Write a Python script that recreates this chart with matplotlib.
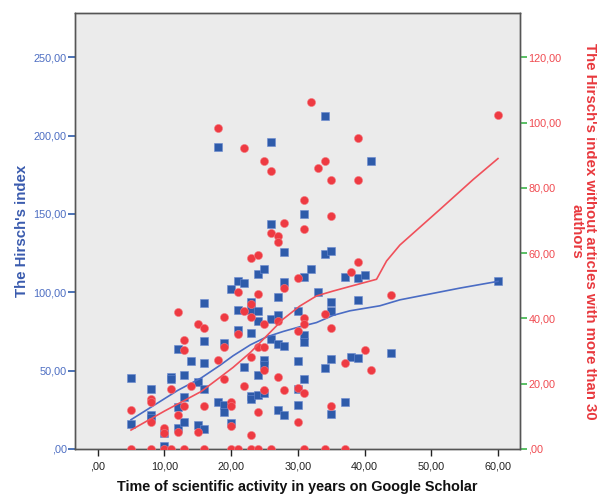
import numpy as np
import matplotlib
matplotlib.use('Agg')
import matplotlib.pyplot as plt
from matplotlib.ticker import FuncFormatter

plt.rcParams['font.family'] = ['Liberation Sans', 'DejaVu Sans']

# ── Data: Hirsch index (blue squares) ───────────────────────────────────────
h_years = [5, 5, 8, 8, 8, 10, 10, 11, 11, 12, 12, 12, 13, 13, 13, 14, 15, 15,
           16, 16, 16, 16, 16, 18, 18, 19, 19, 19, 20, 20, 21, 21, 21, 22, 22,
           23, 23, 23, 23, 23, 24, 24, 24, 24, 24, 25, 25, 25, 25,
           26, 26, 26, 26, 27, 27, 27, 27, 28, 28, 28, 28, 30, 30, 30, 30,
           31, 31, 31, 31, 31, 32, 33, 34, 34, 34, 35, 35, 35, 35, 35,
           37, 37, 38, 39, 39, 39, 40, 41, 44, 60]
h_index = [45, 16, 38, 22, 20, 10.5, 2, 46, 44.5, 64, 27, 13.5, 47, 33, 17, 56, 43, 15.5,
           93, 69, 55, 38, 13, 193, 30, 67.6, 28.3, 23.6, 102, 16.6, 107, 89, 76, 106, 52.5,
           94, 89, 74, 33.5, 32, 112, 88, 81.5, 47, 34.6, 115, 57, 53.5, 35.7,
           196, 143.5, 83, 70, 97, 85.5, 67, 25, 126, 106.5, 66, 21.4, 88, 56, 38, 28,
           150, 110, 73, 68.6, 44.5, 115, 100, 212.5, 124.5, 51.7, 126.5, 94, 88, 57.4, 22.3,
           110, 30, 59, 109, 95, 58, 111, 184, 61, 107]

# ── Data: Hirsch index without >30-author papers (red circles) ──────────────
r_years = [5, 5, 8, 8, 8, 8, 10, 10, 10, 11, 11, 12, 12, 12, 13, 13, 13, 13, 14, 15, 15,
           16, 16, 16, 18, 18, 19, 19, 19, 20, 20, 20, 20, 21, 21, 21, 22, 22, 22,
           23, 23, 23, 23, 23, 23, 24, 24, 24, 24, 24, 25, 25, 25, 25, 25,
           26, 26, 26, 27, 27, 27, 27, 28, 28, 28, 30, 30, 30, 30,
           31, 31, 31, 31, 31, 31, 32, 33, 34, 34, 34, 35, 35, 35, 35,
           37, 37, 38, 39, 39, 39, 40, 41, 44, 60]
r_index = [12, 0, 15.3, 14.3, 8.3, 0, 6.3, 5, 0, 18.3, 0, 42, 10.4, 5.3, 33.3, 30.3, 13.2, 0, 19.3, 38.2, 5.3,
           37.2, 13.2, 0, 98.3, 27.2, 40.3, 31.3, 21.4, 14.3, 13.2, 7.1, 0, 48.2, 35.2, 0, 92.3, 42.3, 19.4,
           58.4, 44.3, 40.3, 28.2, 4.4, 0, 59.3, 47.4, 31.3, 11.2, 0, 88.3, 38.2, 31.3, 24.2, 18,
           85.3, 66.3, 0, 65.4, 63.3, 39.2, 22.1, 69.3, 49.4, 18, 52.3, 36.2, 18.6, 8.3,
           76.2, 67.3, 40, 38.2, 17.3, 0, 106.3, 86.2, 88.3, 41.3, 0, 82.3, 71.3, 37.2, 13.2,
           26.2, 0, 54.2, 95.2, 82.3, 57.3, 30.3, 24.3, 47.3, 102.2]

# ── Loess fit lines ─────────────────────────────────────────────────────────
h_fit_x = [5, 8, 12, 15.5, 18.3, 20.3, 22.9, 25.3, 27.8, 30.3, 32.8, 35.3, 37.8, 42.3, 45.3, 54.3, 60]
h_fit_y = [18.7, 26.7, 37.4, 45.3, 53.3, 59.5, 66.5, 71.5, 75, 78, 80.7, 85.3, 88.2, 91.4, 95.2, 102.7, 107]
r_fit_x = [5, 10, 15.5, 18.3, 20.3, 22.9, 25.3, 27.8, 30.3, 32.8, 35.3, 37.8, 41.8, 43.3, 45.3, 51.3, 56.3, 60]
r_fit_y = [5.8, 11.6, 17.6, 21.9, 25, 29.6, 34.6, 39.8, 43.8, 46.9, 48.4, 49.8, 52, 57.6, 62.5, 73.4, 82.6, 89]

BLUE = '#2E5BAA'
RED = '#EE3A42'
BLUE_TXT = '#4C6DC2'
RED_TXT = '#F04A50'
GREEN = '#3DB54A'

comma = FuncFormatter(lambda v, p: (f'{v:.2f}'.replace('.', ',')).lstrip('0') if abs(v) < 1e-9
                      else f'{v:.2f}'.replace('.', ','))

fig = plt.figure(figsize=(5.97, 4.96), dpi=100)
ax = fig.add_axes([0.1256, 0.0948, 0.7454, 0.879])
ax.set_facecolor('#EBEBEB')
ax2 = ax.twinx()

ax.scatter(h_years, h_index, marker='s', s=32, color=BLUE, edgecolors='#6A8AD0',
           linewidths=0.4, zorder=3)
ax.plot(h_fit_x, h_fit_y, color='#4A6CC4', lw=1.2, zorder=4)
ax2.scatter(r_years, r_index, marker='o', s=34, color=RED, edgecolors='#F47A80',
            linewidths=0.4, zorder=3)
ax2.plot(r_fit_x, r_fit_y, color='#F0505A', lw=1.2, zorder=4)

ax.set_xlim(-3.4, 63.3)
ax.set_ylim(0, 278.3)
ax2.set_ylim(0, 133.6)

ax.set_xticks([0, 10, 20, 30, 40, 50, 60])
ax.set_yticks([0, 50, 100, 150, 200, 250])
ax2.set_yticks([0, 20, 40, 60, 80, 100, 120])
for a in (ax, ax2):
    a.xaxis.set_major_formatter(comma)
    a.yaxis.set_major_formatter(comma)

ax.tick_params(axis='x', direction='out', length=5, width=1, colors='#222222',
               labelsize=7.8, pad=4)
ax.tick_params(axis='y', direction='out', length=5, width=1.2, color=BLUE,
               labelcolor=BLUE_TXT, labelsize=7.8, pad=1)
ax2.tick_params(axis='y', direction='out', length=5, width=1.2, color=GREEN,
                labelcolor=RED_TXT, labelsize=7.8, pad=1)

for a in (ax, ax2):
    for s in a.spines.values():
        s.set_color('#555555')
        s.set_linewidth(1.0)

ax.set_xlabel('Time of scientific activity in years on Google Scholar',
              fontsize=10.4, fontweight='bold', color='#111111', labelpad=6)
ax.set_ylabel("The Hirsch's index", fontsize=10.8, fontweight='bold',
              color='#3A5BAE', labelpad=3)
fig.text(0.977, 0.534, "The Hirsch's index without articles with more than 30\nauthors",
         rotation=270, ha='center', va='center', multialignment='center',
         fontsize=10.8, fontweight='bold', color='#E8383D', linespacing=0.95)

plt.savefig('out.png', dpi=100)
plt.close()
